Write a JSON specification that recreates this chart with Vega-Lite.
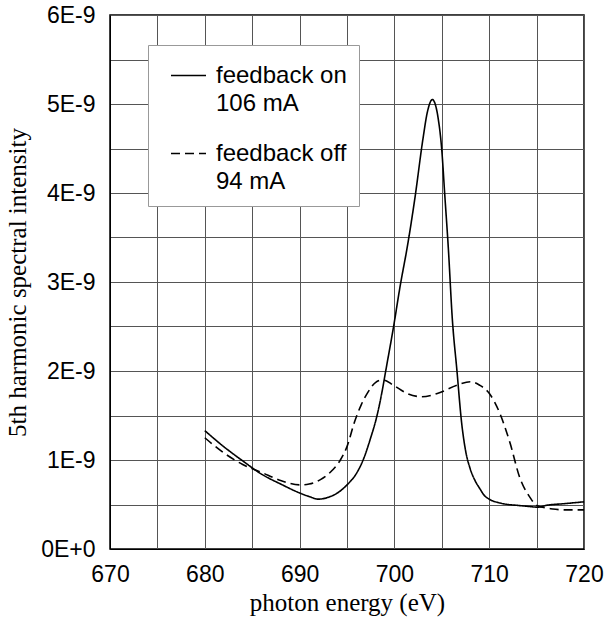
{
  "$schema": "https://vega.github.io/schema/vega-lite/v6.json",
  "width": 474,
  "height": 534,
  "autosize": "none",
  "padding": {"left": 110, "top": 15, "right": 24, "bottom": 80},
  "background": "white",
  "config": {
    "view": {"stroke": "black", "strokeWidth": 1.5},
    "axis": {"gridColor": "#555555", "gridWidth": 1, "gridOpacity": 1, "domainColor": "black", "ticks": false}
  },
  "data": {
    "values": [
      {"e": 680, "v": 1.33, "s": "on"}, {"e": 682, "v": 1.15, "s": "on"}, {"e": 684, "v": 0.99, "s": "on"},
      {"e": 686, "v": 0.84, "s": "on"}, {"e": 688, "v": 0.73, "s": "on"}, {"e": 690, "v": 0.63, "s": "on"},
      {"e": 691, "v": 0.59, "s": "on"}, {"e": 692, "v": 0.56, "s": "on"}, {"e": 693, "v": 0.58, "s": "on"},
      {"e": 694, "v": 0.63, "s": "on"}, {"e": 695, "v": 0.72, "s": "on"}, {"e": 696, "v": 0.85, "s": "on"},
      {"e": 696.7, "v": 1.0, "s": "on"}, {"e": 697.5, "v": 1.25, "s": "on"}, {"e": 698.1, "v": 1.47, "s": "on"},
      {"e": 698.5, "v": 1.66, "s": "on"}, {"e": 699.2, "v": 2.07, "s": "on"}, {"e": 699.9, "v": 2.49, "s": "on"},
      {"e": 700.6, "v": 2.95, "s": "on"}, {"e": 701.4, "v": 3.42, "s": "on"}, {"e": 702.2, "v": 3.97, "s": "on"},
      {"e": 703, "v": 4.6, "s": "on"}, {"e": 703.5, "v": 4.92, "s": "on"}, {"e": 704, "v": 5.05, "s": "on"},
      {"e": 704.3, "v": 5.0, "s": "on"}, {"e": 704.6, "v": 4.85, "s": "on"}, {"e": 705, "v": 4.48, "s": "on"},
      {"e": 705.3, "v": 4.0, "s": "on"}, {"e": 705.7, "v": 3.36, "s": "on"}, {"e": 706.1, "v": 2.6, "s": "on"},
      {"e": 706.6, "v": 2.0, "s": "on"}, {"e": 707.1, "v": 1.41, "s": "on"}, {"e": 707.5, "v": 1.11, "s": "on"},
      {"e": 708, "v": 0.9, "s": "on"}, {"e": 708.5, "v": 0.77, "s": "on"}, {"e": 709, "v": 0.68, "s": "on"},
      {"e": 709.5, "v": 0.6, "s": "on"}, {"e": 710, "v": 0.56, "s": "on"}, {"e": 711, "v": 0.52, "s": "on"},
      {"e": 712, "v": 0.5, "s": "on"}, {"e": 713, "v": 0.49, "s": "on"}, {"e": 714, "v": 0.48, "s": "on"},
      {"e": 715.2, "v": 0.47, "s": "on"}, {"e": 716, "v": 0.49, "s": "on"}, {"e": 718, "v": 0.51, "s": "on"},
      {"e": 720, "v": 0.53, "s": "on"},
      {"e": 680, "v": 1.25, "s": "off"}, {"e": 682, "v": 1.08, "s": "off"}, {"e": 684, "v": 0.95, "s": "off"},
      {"e": 686, "v": 0.86, "s": "off"}, {"e": 688, "v": 0.77, "s": "off"}, {"e": 690, "v": 0.72, "s": "off"},
      {"e": 691, "v": 0.73, "s": "off"}, {"e": 692.2, "v": 0.78, "s": "off"}, {"e": 693.5, "v": 0.89, "s": "off"},
      {"e": 694.3, "v": 1.0, "s": "off"}, {"e": 695, "v": 1.15, "s": "off"}, {"e": 695.8, "v": 1.43, "s": "off"},
      {"e": 696.5, "v": 1.62, "s": "off"}, {"e": 697.2, "v": 1.76, "s": "off"}, {"e": 698, "v": 1.87, "s": "off"},
      {"e": 698.8, "v": 1.9, "s": "off"}, {"e": 699.9, "v": 1.84, "s": "off"}, {"e": 701.3, "v": 1.75, "s": "off"},
      {"e": 702.9, "v": 1.71, "s": "off"}, {"e": 704.6, "v": 1.75, "s": "off"}, {"e": 706.6, "v": 1.84, "s": "off"},
      {"e": 708, "v": 1.88, "s": "off"}, {"e": 709, "v": 1.84, "s": "off"}, {"e": 710, "v": 1.75, "s": "off"},
      {"e": 711.1, "v": 1.53, "s": "off"}, {"e": 712.2, "v": 1.19, "s": "off"}, {"e": 713.2, "v": 0.81, "s": "off"},
      {"e": 714.3, "v": 0.58, "s": "off"}, {"e": 715, "v": 0.49, "s": "off"}, {"e": 716.7, "v": 0.45, "s": "off"},
      {"e": 718, "v": 0.44, "s": "off"}, {"e": 720, "v": 0.44, "s": "off"}
    ]
  },
  "mark": {"type": "line", "interpolate": "monotone", "color": "black", "strokeWidth": 1.6},
  "encoding": {
    "x": {
      "field": "e", "type": "quantitative",
      "scale": {"domain": [670, 720], "nice": false},
      "axis": {
        "title": "photon energy (eV)",
        "values": [670, 675, 680, 685, 690, 695, 700, 705, 710, 715, 720],
        "labelExpr": "datum.value % 10 == 0 ? datum.label : ''",
        "format": "d",
        "labelFont": "Liberation Sans", "labelFontSize": 23, "labelColor": "black", "labelPadding": 14,
        "labelOverlap": false, "labelFlush": false,
        "titleFont": "Liberation Serif", "titleFontSize": 25, "titleFontWeight": "normal", "titleColor": "black", "titlePadding": 4
      }
    },
    "y": {
      "field": "v", "type": "quantitative",
      "scale": {"domain": [0, 6], "nice": false},
      "axis": {
        "title": "5th harmonic spectral intensity",
        "values": [0, 0.5, 1, 1.5, 2, 2.5, 3, 3.5, 4, 4.5, 5, 5.5, 6],
        "labelExpr": "datum.value == 0 ? '0E+0' : (datum.value % 1 == 0 ? format(datum.value, 'd') + 'E-9' : '')",
        "labelFont": "Liberation Sans", "labelFontSize": 23, "labelColor": "black", "labelPadding": 15,
        "labelOverlap": false, "labelFlush": false,
        "titleFont": "Liberation Serif", "titleFontSize": 25, "titleFontWeight": "normal", "titleColor": "black", "titlePadding": 10
      }
    },
    "strokeDash": {
      "field": "s", "type": "nominal",
      "scale": {"domain": ["on", "off"], "range": [[1, 0], [9, 5]]},
      "legend": {
        "title": null,
        "orient": "none",
        "legendX": 38,
        "legendY": 30,
        "fillColor": "white",
        "strokeColor": "#999999",
        "padding": 12,
        "symbolType": "stroke",
        "symbolSize": 1225,
        "symbolStrokeWidth": 1.6,
        "symbolStrokeColor": "black",
        "symbolOffset": 10,
        "labelOffset": 9,
        "labelFont": "Liberation Sans",
        "labelFontSize": 24,
        "labelColor": "black",
        "labelLimit": 300,
        "rowPadding": 19,
        "labelExpr": "datum.label == 'on' ? ['feedback on', '106 mA'] : ['feedback off', '94 mA']",
        "encode": {"labels": {"update": {"lineHeight": {"value": 28}}}}
      }
    }
  }
}
